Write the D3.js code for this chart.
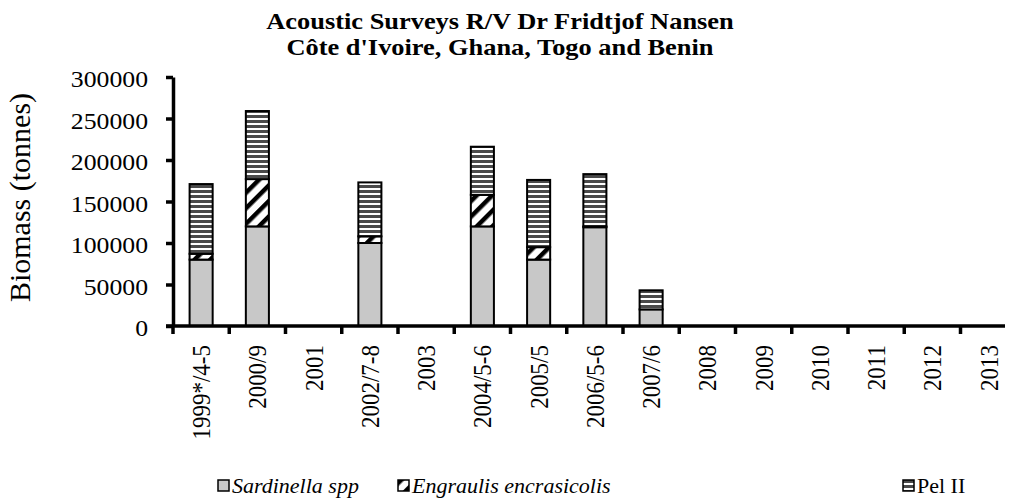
<!DOCTYPE html>
<html>
<head>
<meta charset="utf-8">
<script src="https://cdn.jsdelivr.net/npm/d3@7"></script>
<style>
  body { margin: 0; background: #fff; }
  svg { display: block; font-family: "Liberation Serif", "Times New Roman", serif; }
</style>
</head>
<body>
<div id="chart"></div>
<script>
// Données (tonnes)
const categories = ["1999*/4-5", "2000/9", "2001", "2002/7-8", "2003", "2004/5-6", "2005/5",
                    "2006/5-6", "2007/6", "2008", "2009", "2010", "2011", "2012", "2013"];
const sardinella = [80000, 120000, 0, 100000, 0, 120000, 80000, 119000, 20000, 0, 0, 0, 0, 0, 0];
const engraulis  = [7000, 57000, 0, 8000, 0, 38000, 15000, 1000, 0, 0, 0, 0, 0, 0, 0];
const pelII      = [84000, 82000, 0, 65000, 0, 58000, 81000, 63000, 23000, 0, 0, 0, 0, 0, 0];
const seriesNames = ["Sardinella spp", "Engraulis encrasicolis", "Pel II"];
const yTicks = [0, 50000, 100000, 150000, 200000, 250000, 300000];

const W = 1011, H = 500;
const margin = { top: 77, left: 173, bottom: 174 };
const plotH = H - margin.top - margin.bottom;
const sx = 1.12; // étirement horizontal du texte

const svg = d3.select("#chart").append("svg")
    .attr("width", W).attr("height", H);

// Motifs de remplissage
const defs = svg.append("defs");
const diag = defs.append("pattern")
    .attr("id", "diag").attr("patternUnits", "userSpaceOnUse")
    .attr("width", 11).attr("height", 11)
    .attr("patternTransform", "rotate(45)");
diag.append("rect").attr("width", 11).attr("height", 11).attr("fill", "#fff");
diag.append("rect").attr("width", 4.5).attr("height", 11).attr("fill", "#000");

const horiz = defs.append("pattern")
    .attr("id", "horiz").attr("patternUnits", "userSpaceOnUse")
    .attr("width", 5).attr("height", 5);
horiz.append("rect").attr("width", 5).attr("height", 5).attr("fill", "#fff");
horiz.append("rect").attr("width", 5).attr("height", 3).attr("fill", "#4a4a4a");

const fills = ["#c8c8c8", "url(#diag)", "url(#horiz)"];

const data = categories.map((c, i) => ({
    cat: c, sardinella: sardinella[i], engraulis: engraulis[i], pelII: pelII[i]
}));
const stack = d3.stack().keys(["sardinella", "engraulis", "pelII"])(data);

const pad = 0.59;
const x = d3.scaleBand().domain(categories)
    .range([margin.left, margin.left + 56.25 * categories.length])
    .paddingInner(pad).paddingOuter(pad / 2);
const y = d3.scaleLinear().domain([0, 300000])
    .range([margin.top + plotH, margin.top]);

// Barres empilées
svg.append("g").selectAll("g")
    .data(stack)
  .enter().append("g")
    .attr("fill", (d, i) => fills[i])
  .selectAll("rect")
    .data(d => d.filter(s => s[1] - s[0] > 0))
  .enter().append("rect")
    .attr("x", d => x(d.data.cat))
    .attr("y", d => y(d[1]))
    .attr("width", x.bandwidth())
    .attr("height", d => y(d[0]) - y(d[1]))
    .attr("stroke", "#000")
    .attr("stroke-width", 2);

// Axe Y
const yAxis = svg.append("g")
    .attr("transform", "translate(" + margin.left + ",0)")
    .call(d3.axisLeft(y).tickValues(yTicks).tickFormat(d3.format("d"))
        .tickSize(7).tickSizeOuter(0));
yAxis.select(".domain").attr("stroke-width", 3.5);
yAxis.selectAll(".tick line").attr("stroke-width", 3.5);
yAxis.selectAll(".tick text")
    .attr("x", -25 / sx).attr("dy", "0.42em")
    .attr("transform", "scale(" + sx + ",1)")
    .style("font-family", "Liberation Serif").style("font-size", "23px").attr("fill", "#000");

// Axe X (graduations aux limites des catégories)
const gap = x.step() * pad / 2;
const xAxis = svg.append("g")
    .attr("transform", "translate(0," + y(0) + ")");
xAxis.append("line")
    .attr("x1", margin.left - 7).attr("x2", 1005)
    .attr("stroke", "#000").attr("stroke-width", 3.5);
xAxis.selectAll(".xt")
    .data(categories)
  .enter().append("line")
    .attr("class", "xt")
    .attr("x1", d => x(d) - gap).attr("x2", d => x(d) - gap)
    .attr("y1", 0).attr("y2", 8)
    .attr("stroke", "#000").attr("stroke-width", 3.5);
xAxis.selectAll(".xl")
    .data(categories)
  .enter().append("text")
    .attr("class", "xl")
    .attr("transform", d => "translate(" + (x(d) + x.bandwidth() / 2 + 9) + ",19) scale(" + sx + ",1) rotate(-90)")
    .attr("text-anchor", "end")
    .style("font-size", "23px")
    .text(d => d);

// Titre de l'axe Y
svg.append("text")
    .attr("transform", "translate(30," + (margin.top + plotH / 2 - 4) + ") rotate(-90)")
    .attr("text-anchor", "middle")
    .style("font-size", "30px")
    .text("Biomass (tonnes)");

// Titre
const title = svg.append("text")
    .attr("text-anchor", "middle")
    .attr("transform", "translate(500,0) scale(1.1,1)")
    .style("font-weight", "bold").style("font-size", "24px");
title.append("tspan").attr("x", 0).attr("y", 29).text("Acoustic Surveys R/V Dr Fridtjof Nansen");
title.append("tspan").attr("x", 0).attr("y", 55).text("Côte d'Ivoire, Ghana, Togo and Benin");

// Légende
const legendX = [218, 398, 903];
const leg = svg.append("g").selectAll("g")
    .data(seriesNames)
  .enter().append("g")
    .attr("transform", (d, i) => "translate(" + legendX[i] + ",480)");
leg.append("rect")
    .attr("width", 11).attr("height", 11)
    .attr("fill", (d, i) => fills[i])
    .attr("stroke", "#000").attr("stroke-width", 1.5);
leg.append("text")
    .attr("x", 14).attr("y", 13)
    .style("font-size", "22px")
    .style("font-style", (d, i) => i < 2 ? "italic" : "normal")
    .text(d => d);
</script>
</body>
</html>
